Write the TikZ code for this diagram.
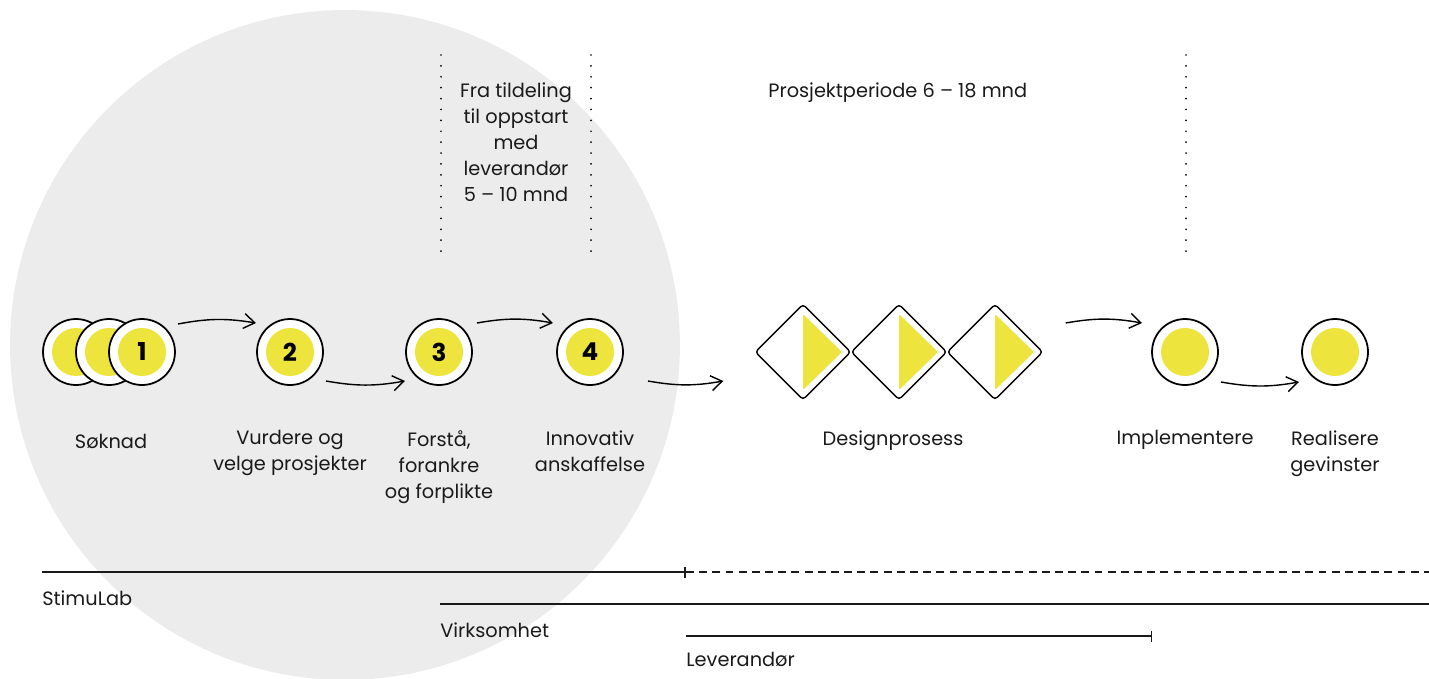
\documentclass[tikz,border=0pt]{standalone}
\usepackage{fontspec}
\setmainfont{Poppins}
\usetikzlibrary{calc,positioning,shapes.geometric,arrows.meta}
\definecolor{bakgrunn}{HTML}{ECECEC}
\definecolor{gul}{HTML}{EEE43E}
\definecolor{blekk}{HTML}{1A1A1A}
\tikzset{
  fase/.style={circle, draw=black, line width=1pt, fill=white, minimum size=1.32cm, inner sep=0pt,
    font=\fontsize{14}{14}\selectfont\bfseries,
    path picture={\fill[gul] (path picture bounding box.center) circle (0.48cm);}},
  sprint/.style={diamond, draw=black, line width=0.8pt, fill=white, rounded corners=2pt,
    minimum width=1.92cm, minimum height=1.92cm, inner sep=0pt},
  flow/.style={-{Straight Barb[length=0.22cm,width=0.3cm]}, line width=0.8pt},
  tekst/.style={align=center, anchor=north, inner sep=0pt, text=blekk,
    font=\fontsize{11}{14.8}\selectfont},
  skille/.style={line width=1.1pt, line cap=round, dash pattern=on 0pt off 6.2pt},
  linje/.style={line width=0.8pt, blekk}
}
\begin{document}
\begin{tikzpicture}[x=0.02cm,y=-0.02cm]
\useasboundingbox (0,0) rectangle (1429,679);

% bakgrunnssirkel
\fill[bakgrunn] (345,345) circle (6.7cm);

% skillelinjer
\draw[skille] (441,55) -- (441,256);
\draw[skille] (591,55) -- (591,256);
\draw[skille] (1186,55) -- (1186,256);

% periodetekster
\node[tekst] (tildeling) at (516,82) {Fra tildeling\\til oppstart\\med\\leverandør\\5 – 10 mnd};
\node[tekst, anchor=north west] (periode) at (768,82) {Prosjektperiode 6 – 18 mnd};

% faser
\node[fase] (s1a) at (76,352) {};
\node[fase] (s1b) at (109,352) {};
\node[fase] (s1) at (142,352) {1};
\node[fase] (s2) at (290,352) {2};
\node[fase] (s3) at (439,352) {3};
\node[fase] (s4) at (590,352) {4};

% designprosess
\foreach \i/\x in {1/803,2/899,3/995}{
  \node[sprint] (d\i) at (\x,352) {};
  \fill[gul, rounded corners=1pt] ($(d\i)+(0,-38)$) -- ($(d\i)+(39,0)$) -- ($(d\i)+(0,38)$) -- cycle;
}

\node[fase] (s5) at (1185,352) {};
\node[fase] (s6) at (1335,352) {};

% piler
\draw[flow] ($(s1)+(36,-28)$) to[bend left=10] ($(s2)+(-34,-29)$);
\draw[flow] ($(s2)+(36,29)$) to[bend right=10] ($(s3)+(-34,29)$);
\draw[flow] ($(s3)+(38,-29)$) to[bend left=10] ($(s4)+(-37,-29)$);
\draw[flow] ($(s4)+(58,29)$) to[bend right=10] ($(d1.west)+(-31,29)$);
\draw[flow] ($(d3.east)+(22,-29)$) to[bend left=10] ($(s5)+(-43,-29)$);
\draw[flow] ($(s5)+(36,30)$) to[bend right=10] ($(s6)+(-36,30)$);

% fasenavn
\coordinate (capline) at (0,430);
\node[tekst] at ($(s1b |- capline)+(2,4)$) {Søknad};
\node[tekst] at (s2 |- capline) {Vurdere og\\velge prosjekter};
\node[tekst] at (s3 |- capline) {Forstå,\\forankre\\og forplikte};
\node[tekst] at (s4 |- capline) {Innovativ\\anskaffelse};
\node[tekst] at (893,430) {Designprosess};
\node[tekst] at (s5 |- capline) {Implementere};
\node[tekst] at (s6 |- capline) {Realisere\\gevinster};

% ansvar
\draw[linje, -{Bar[width=0.22cm,line width=1.1pt]}] (42,572) -- (686,572);
\draw[linje, dash pattern=on 4.5pt off 3pt] (686,572) -- (1429,572);
\node[tekst, anchor=north west] (stimulab) at (42,590) {StimuLab};
\draw[linje] (440,604) -- (1429,604);
\node[tekst, anchor=north west] (virksomhet) at (440,622) {Virksomhet};
\draw[linje, -{Bar[width=0.22cm]}] (686,636) -- (1152,636);
\node[tekst, anchor=north west] (leverandor) at (686,652) {Leverandør};

\end{tikzpicture}
\end{document}
